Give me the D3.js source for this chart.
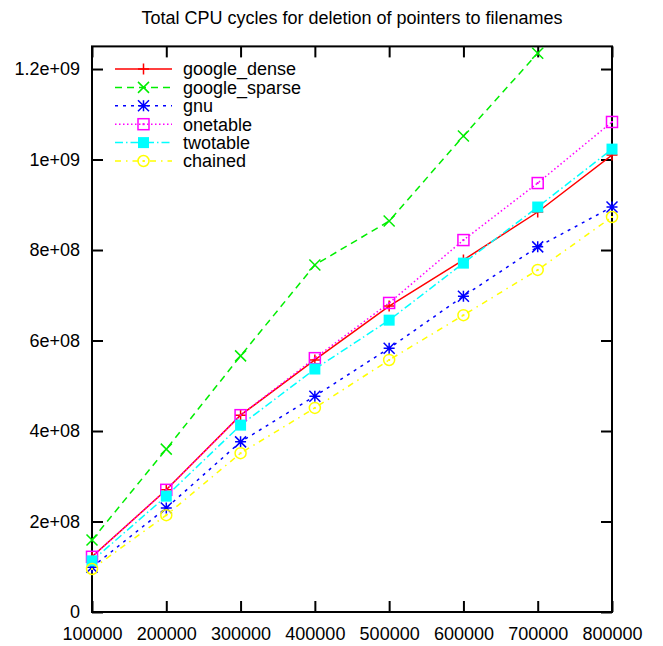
<!DOCTYPE html>
<html lang="en">
<head>
<meta charset="UTF-8">
<title>Total CPU cycles for deletion of pointers to filenames</title>
<style>
  body { margin: 0; background: #fff; }
  svg text { font-family: 'Liberation Sans', Arial, sans-serif; fill: #000; }
</style>
<script src="https://d3js.org/d3.v7.min.js"></script>
</head>
<body>
<svg width="663" height="646"></svg>
<script>
const sizes = [100000, 200000, 300000, 400000, 500000, 600000, 700000, 800000];

const googleDense  = [1.22e8, 2.70e8, 4.35e8, 5.57e8, 6.76e8, 7.78e8, 8.84e8, 1.010e9];
const googleSparse = [1.59e8, 3.60e8, 5.66e8, 7.67e8, 8.64e8, 1.052e9, 1.235e9];
const gnu          = [0.99e8, 2.30e8, 3.76e8, 4.77e8, 5.83e8, 6.98e8, 8.07e8, 8.95e8];
const onetable     = [1.22e8, 2.70e8, 4.35e8, 5.61e8, 6.83e8, 8.22e8, 9.48e8, 1.083e9];
const twotable     = [1.13e8, 2.56e8, 4.13e8, 5.37e8, 6.45e8, 7.71e8, 8.95e8, 1.023e9];
const chained      = [0.95e8, 2.14e8, 3.51e8, 4.51e8, 5.57e8, 6.56e8, 7.56e8, 8.73e8];

const yTicks = [0, 2e8, 4e8, 6e8, 8e8, 1e9, 1.2e9];
const yTickLabels = ["0", "2e+08", "4e+08", "6e+08", "8e+08", "1e+09", "1.2e+09"];
const xTickLabels = ["100000", "200000", "300000", "400000", "500000", "600000", "700000", "800000"];

const seriesNames = ["google_dense", "google_sparse", "gnu", "onetable", "twotable", "chained"];
const seriesValues = [googleDense, googleSparse, gnu, onetable, twotable, chained];

// per-series drawing style (gnuplot-like)
const styles = {
  google_dense:  { color: "#ff0000", dash: null,          marker: "plus" },
  google_sparse: { color: "#00ee00", dash: "7,5",         marker: "cross" },
  gnu:           { color: "#0000ff", dash: "3,5",         marker: "star" },
  onetable:      { color: "#ff00ff", dash: "1.5,2.5",     marker: "square" },
  twotable:      { color: "#00ffff", dash: "8,3,1.5,3",   marker: "filledSquare" },
  chained:       { color: "#ffff00", dash: "6,5,1.5,5",   marker: "circle" }
};

const svg = d3.select("svg");
const plotLeft = 92, plotRight = 612, plotTop = 46.4, plotBottom = 612;
const fontSize = "18px";

const x = d3.scaleLinear().domain([100000, 800000]).range([plotLeft, plotRight]);
const y = d3.scaleLinear().domain([0, 1.25e9]).range([plotBottom, plotTop]);

svg.append("text")
  .attr("x", (plotLeft + plotRight) / 2)
  .attr("y", 24)
  .attr("text-anchor", "middle")
  .style("font-size", fontSize)
  .text("Total CPU cycles for deletion of pointers to filenames");

svg.append("defs").append("clipPath").attr("id", "plot-clip")
  .append("rect")
  .attr("x", plotLeft).attr("y", plotTop)
  .attr("width", plotRight - plotLeft).attr("height", plotBottom - plotTop);

// axes with inward ticks, mirrored on top/right
const tickLen = 11;
function styleAxis(g) {
  g.select(".domain").remove();
  g.selectAll(".tick line").attr("stroke", "#000").attr("stroke-width", 2);
  g.selectAll(".tick text").style("font-size", fontSize).attr("fill", "#000");
}

svg.append("g")
  .attr("transform", `translate(${plotLeft},0)`)
  .call(d3.axisLeft(y).tickValues(yTicks).tickSize(-tickLen).tickPadding(12)
    .tickFormat((d, i) => yTickLabels[i]))
  .call(styleAxis);

svg.append("g")
  .attr("transform", `translate(${plotRight},0)`)
  .call(d3.axisRight(y).tickValues(yTicks).tickSize(-tickLen).tickFormat(""))
  .call(styleAxis);

svg.append("g")
  .attr("transform", `translate(0,${plotBottom})`)
  .call(d3.axisBottom(x).tickValues(sizes).tickSize(-tickLen).tickPadding(15)
    .tickFormat((d, i) => xTickLabels[i]))
  .call(styleAxis);

svg.append("g")
  .attr("transform", `translate(0,${plotTop})`)
  .call(d3.axisTop(x).tickValues(sizes).tickSize(-tickLen).tickFormat(""))
  .call(styleAxis);

svg.append("rect")
  .attr("x", plotLeft).attr("y", plotTop)
  .attr("width", plotRight - plotLeft).attr("height", plotBottom - plotTop)
  .attr("fill", "none").attr("stroke", "#000").attr("stroke-width", 2);

// point marker shapes, centred on the origin
function drawMarker(g, type, color) {
  const s = 5.5;
  if (type === "plus") {
    g.append("path").attr("d", `M${-s},0H${s}M0,${-s}V${s}`)
      .attr("stroke", color).attr("stroke-width", 1.5).attr("fill", "none");
  } else if (type === "cross") {
    g.append("path").attr("d", `M${-s},${-s}L${s},${s}M${-s},${s}L${s},${-s}`)
      .attr("stroke", color).attr("stroke-width", 1.5).attr("fill", "none");
  } else if (type === "star") {
    g.append("path").attr("d", `M${-s},0H${s}M0,${-s}V${s}M${-s},${-s}L${s},${s}M${-s},${s}L${s},${-s}`)
      .attr("stroke", color).attr("stroke-width", 1.5).attr("fill", "none");
  } else if (type === "square") {
    g.append("rect").attr("x", -s).attr("y", -s).attr("width", 2 * s).attr("height", 2 * s)
      .attr("stroke", color).attr("stroke-width", 1.5).attr("fill", "none");
    g.append("rect").attr("x", -1).attr("y", -1).attr("width", 2).attr("height", 2).attr("fill", color);
  } else if (type === "filledSquare") {
    g.append("rect").attr("x", -s).attr("y", -s).attr("width", 2 * s).attr("height", 2 * s)
      .attr("fill", color);
  } else if (type === "circle") {
    g.append("circle").attr("r", s)
      .attr("stroke", color).attr("stroke-width", 1.5).attr("fill", "none");
    g.append("rect").attr("x", -1).attr("y", -1).attr("width", 2).attr("height", 2).attr("fill", color);
  }
}

const line = d3.line().x(d => x(d.size)).y(d => y(d.value));
const lines = svg.append("g").attr("clip-path", "url(#plot-clip)");
const points = svg.append("g");

seriesNames.forEach((name, k) => {
  const st = styles[name];
  const pts = seriesValues[k].map((v, i) => ({ size: sizes[i], value: v }));
  lines.append("path")
    .datum(pts)
    .attr("d", line)
    .attr("fill", "none")
    .attr("stroke", st.color)
    .attr("stroke-width", 1.5)
    .attr("stroke-dasharray", st.dash);
  // markers are not clipped, so edge points show in full
  points.selectAll(null)
    .data(pts)
    .enter().append("g")
    .attr("transform", d => `translate(${x(d.size)},${y(d.value)})`)
    .each(function () { drawMarker(d3.select(this), st.marker, st.color); });
});

// key
const legend = svg.append("g");
seriesNames.forEach((name, k) => {
  const st = styles[name];
  const ly = 69 + k * 18.4;
  legend.append("line")
    .attr("x1", 115).attr("x2", 172).attr("y1", ly).attr("y2", ly)
    .attr("stroke", st.color).attr("stroke-width", 1.5)
    .attr("stroke-dasharray", st.dash);
  const m = legend.append("g").attr("transform", `translate(143.5,${ly})`);
  drawMarker(m, st.marker, st.color);
  legend.append("text")
    .attr("x", 183).attr("y", ly)
    .attr("dy", "0.35em")
    .style("font-size", fontSize)
    .text(name);
});
</script>
</body>
</html>
